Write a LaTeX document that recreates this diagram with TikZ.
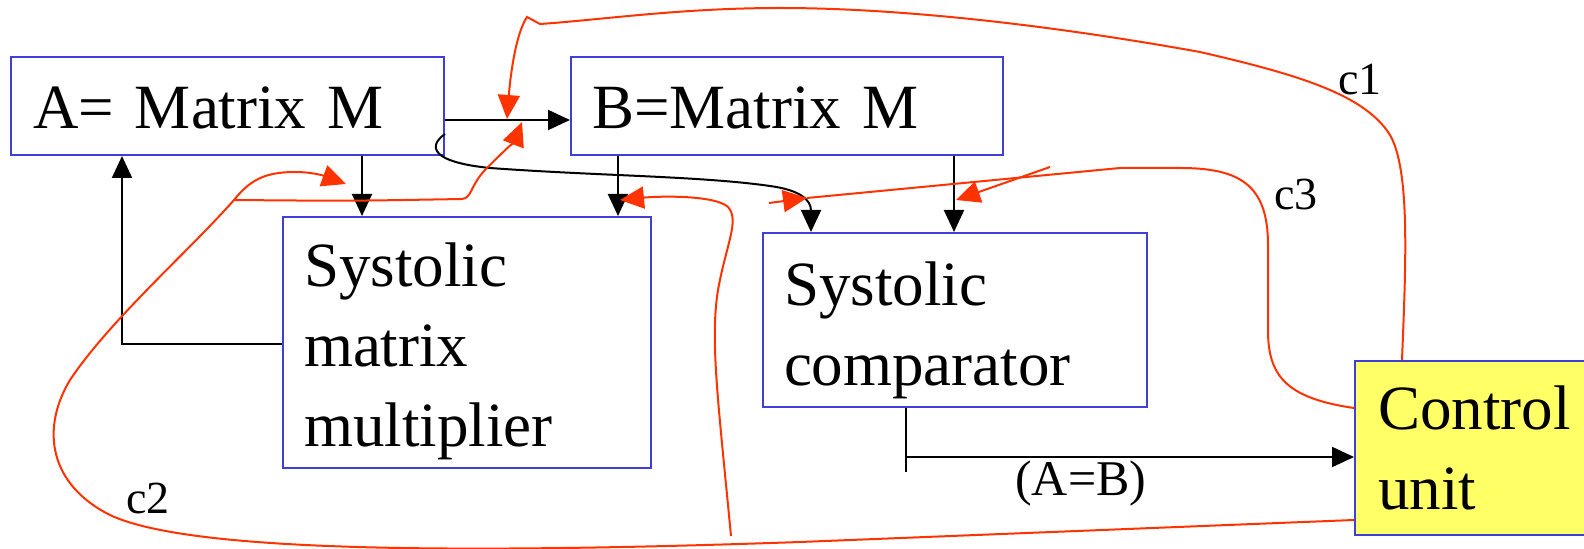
\documentclass[tikz,border=0pt]{standalone}
\usepackage{xcolor}
\usepackage{tikz}
\usetikzlibrary{arrows.meta}
\usepackage{fontspec}
\setmainfont{Liberation Serif}
\definecolor{blu}{HTML}{3F3FD8}
\definecolor{rosso}{HTML}{FF3300}
\definecolor{giallo}{HTML}{FFFF66}

\begin{document}
\begin{tikzpicture}[x=0.5pt,y=0.5pt,
    blocco/.style={draw=blu, line width=1pt, anchor=north west, align=left,
      inner xsep=0pt, inner ysep=0pt, font=\fontsize{31.5}{40}\selectfont},
    dati/.style={line width=1pt, -{Triangle[length=11pt,width=10pt]}},
    segnale/.style={draw=rosso, line width=1pt},
    punta/.style={-{Triangle[length=12pt,width=11pt]}},
    etich/.style={font=\fontsize{23}{28}\selectfont, inner sep=0pt}]
  \useasboundingbox (0,0) rectangle (1584,-549);
  % Blocchi
  \node[blocco, text width=194.5pt, text height=23pt, minimum width=216.5pt, minimum height=49pt] (A) at (10,-56) {A= Matrix M};
  \node[blocco, text width=195pt, text height=23pt, minimum width=216pt, minimum height=49pt] (B) at (570,-56) {B=Matrix M};
  \node[blocco, text width=163pt, text height=30.5pt, minimum width=184pt, minimum height=125.5pt] (mult) at (282,-216) {Systolic\\matrix\\multiplier};
  \node[blocco, text width=171pt, text height=32.5pt, minimum width=192pt, minimum height=87pt] (comp) at (762,-232) {Systolic\\comparator};
  \node[blocco, fill=giallo, text width=107pt, minimum width=130pt, minimum height=87pt] (ctrl) at (1354,-360) {Control\\unit};
  % Percorsi dei dati
  \draw[dati] (A.east |- 0,-120) -- (B.west |- 0,-120);
  \draw[dati] (A.south -| 362,0) -- (mult.north -| 362,0);
  \draw[dati] (B.south -| 618,0) -- (mult.north -| 618,0);
  \draw[dati] (B.south -| 954,0) -- (comp.north -| 954,0);
  \draw[dati] (mult.west |- 0,-344) -| (A.south -| 122,0);
  \draw[dati] (A.east |- 0,-134) .. controls (428,-146) and (430,-162) .. (490,-168)
    .. controls (600,-176) and (700,-176) .. (770,-186)
    .. controls (800,-190) and (811,-200) .. (comp.north -| 811,0);
  \draw[line width=1pt] (comp.south -| 906,0) -- (906,-472);
  \draw[dati] (906,-457) -- (ctrl.west |- 0,-457)
    node[etich, font=\fontsize{25}{30}\selectfont, pos=0.39, below=1.5pt] (eq) {(A=B)};
  % Segnali di controllo
  \draw[segnale, punta] (ctrl.north -| 1402,0) .. controls (1406,-260) and (1410,-170) .. (1390,-135)
    .. controls (1365,-95) and (1300,-75) .. (1200,-52)
    .. controls (1050,-25) and (900,-8) .. (780,-8)
    .. controls (680,-8) and (600,-20) .. (540,-24) -- (527,-17)
    .. controls (515,-35) and (510,-80) .. (507,-119);
  \node[etich, anchor=base west] (c1) at (1338,-95) {c1};
  \draw[segnale] (ctrl.west |- 0,-408) .. controls (1285,-398) and (1268,-375) .. (1268,-330)
    -- (1268,-245) .. controls (1268,-185) and (1240,-168) .. (1180,-168)
    -- (1120,-168) -- (807,-198);
  \draw[segnale, punta] (769,-203) -- (807,-198);
  \draw[segnale, punta] (1050,-167) -- (956,-200);
  \node[etich, anchor=base west] (c3) at (1274,-210) {c3};
  \draw[segnale, punta] (ctrl.west |- 0,-520) -- (800,-542)
    .. controls (400,-556) and (180,-548) .. (110,-515)
    .. controls (50,-485) and (40,-430) .. (70,-380)
    .. controls (110,-320) and (190,-250) .. (234,-200)
    .. controls (250,-180) and (265,-172) .. (295,-172)
    .. controls (320,-172) and (335,-180) .. (346,-184);
  \draw[segnale, punta] (234,-200) .. controls (350,-201) .. (462,-199)
    .. controls (472,-198) and (470,-186) .. (485,-170)
    .. controls (500,-155) and (515,-140) .. (522,-122);
  \draw[segnale, punta] (731,-536) .. controls (718,-400) and (710,-340) .. (718,-290)
    .. controls (726,-245) and (740,-220) .. (728,-207)
    .. controls (715,-195) and (660,-196) .. (620,-200);
  \node[etich, anchor=base west] (c2) at (126,-514) {c2};
\end{tikzpicture}
\end{document}
